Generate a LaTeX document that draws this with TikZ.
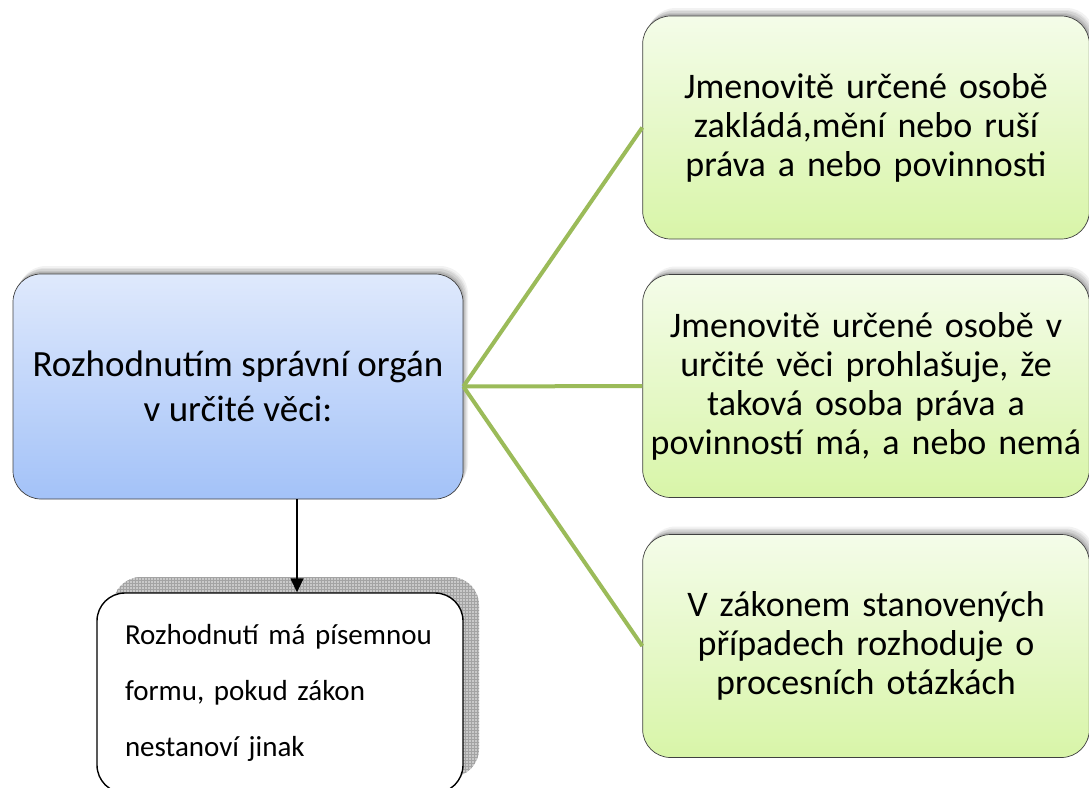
\documentclass[tikz,border=0pt]{standalone}
\usepackage{fontspec}
\setmainfont{Carlito}
\usetikzlibrary{arrows.meta,shadows,patterns}

\definecolor{linegreen}{HTML}{9BBB59}
\definecolor{bluetop}{HTML}{DFE9FC}
\definecolor{bluebot}{HTML}{A3C2F8}
\definecolor{greentop}{HTML}{F4FCE9}
\definecolor{greenbot}{HTML}{D8F5A8}
\definecolor{boxedge}{HTML}{404040}

\begin{document}
\begin{tikzpicture}[x=1pt, y=-1pt,
    softshadow/.style={
        general shadow={shadow xshift=1pt, shadow yshift=2pt, opacity=0.09, fill=black},
        general shadow={shadow xshift=2pt, shadow yshift=3pt, opacity=0.08, fill=black},
        general shadow={shadow xshift=3pt, shadow yshift=5pt, opacity=0.07, fill=black},
        general shadow={shadow xshift=4pt, shadow yshift=6pt, opacity=0.06, fill=black},
        general shadow={shadow xshift=5pt, shadow yshift=8pt, opacity=0.05, fill=black}},
    orgbox/.style={draw=boxedge, line width=0.7pt, rounded corners=28pt, top color=bluetop, bottom color=bluebot,
        minimum width=450pt, minimum height=225pt, align=center, font=\fontsize{37}{45}\selectfont, softshadow},
    effectbox/.style={draw=boxedge, line width=0.7pt, rounded corners=28pt, top color=greentop, bottom color=greenbot,
        minimum width=445pt, minimum height=223pt, text width=440pt, align=center, font=\fontsize{36}{39}\selectfont, softshadow},
    hatchshadow/.style={general shadow={shadow xshift=16pt, shadow yshift=16pt, fill=black!21},
        general shadow={shadow xshift=16pt, shadow yshift=16pt, pattern=grid, pattern color=black!36}},
    notebox/.style={draw=black, line width=1.4pt, rounded corners=28pt, fill=white, minimum width=366pt, minimum height=200pt,
        text width=310pt, inner xsep=28pt, align=left, font=\fontsize{29}{56}\selectfont, hatchshadow},
    branch/.style={linegreen, line width=4pt},
    arrowline/.style={-{Triangle[length=14pt,width=13pt]}, line width=1.5pt}
]
    \useasboundingbox (0,0) rectangle (1089,787);
    \clip (0,0) rectangle (1089,787);

    % Main box
    \node[orgbox] (org) at (238,386.5) {Rozhodnutím správní orgán\\v určité věci:};

    % Effects
    \node[effectbox] (g1) at (866,127.5) {Jmenovitě určené osobě\\zakládá,mění nebo ruší\\práva a nebo povinnosti};
    \node[effectbox] (g2) at (866,386) {Jmenovitě určené osobě v\\určité věci prohlašuje, že\\taková osoba práva a\\povinností má, a nebo nemá};
    \node[effectbox] (g3) at (866,646) {V zákonem stanovených\\případech rozhoduje o\\procesních otázkách};

    % Note on form
    \node[notebox] (note) at (280,693) {Rozhodnutí má písemnou\\formu, pokud zákon\\nestanoví jinak};

    % Connectors
    \draw[branch] (org.east) -- (g1.west);
    \draw[branch] (org.east) -- (g2.west);
    \draw[branch] (org.east) -- (g3.west);
    \draw[arrowline] ([xshift=59pt]org.south) -- ([xshift=17pt]note.north);

\end{tikzpicture}
\end{document}
